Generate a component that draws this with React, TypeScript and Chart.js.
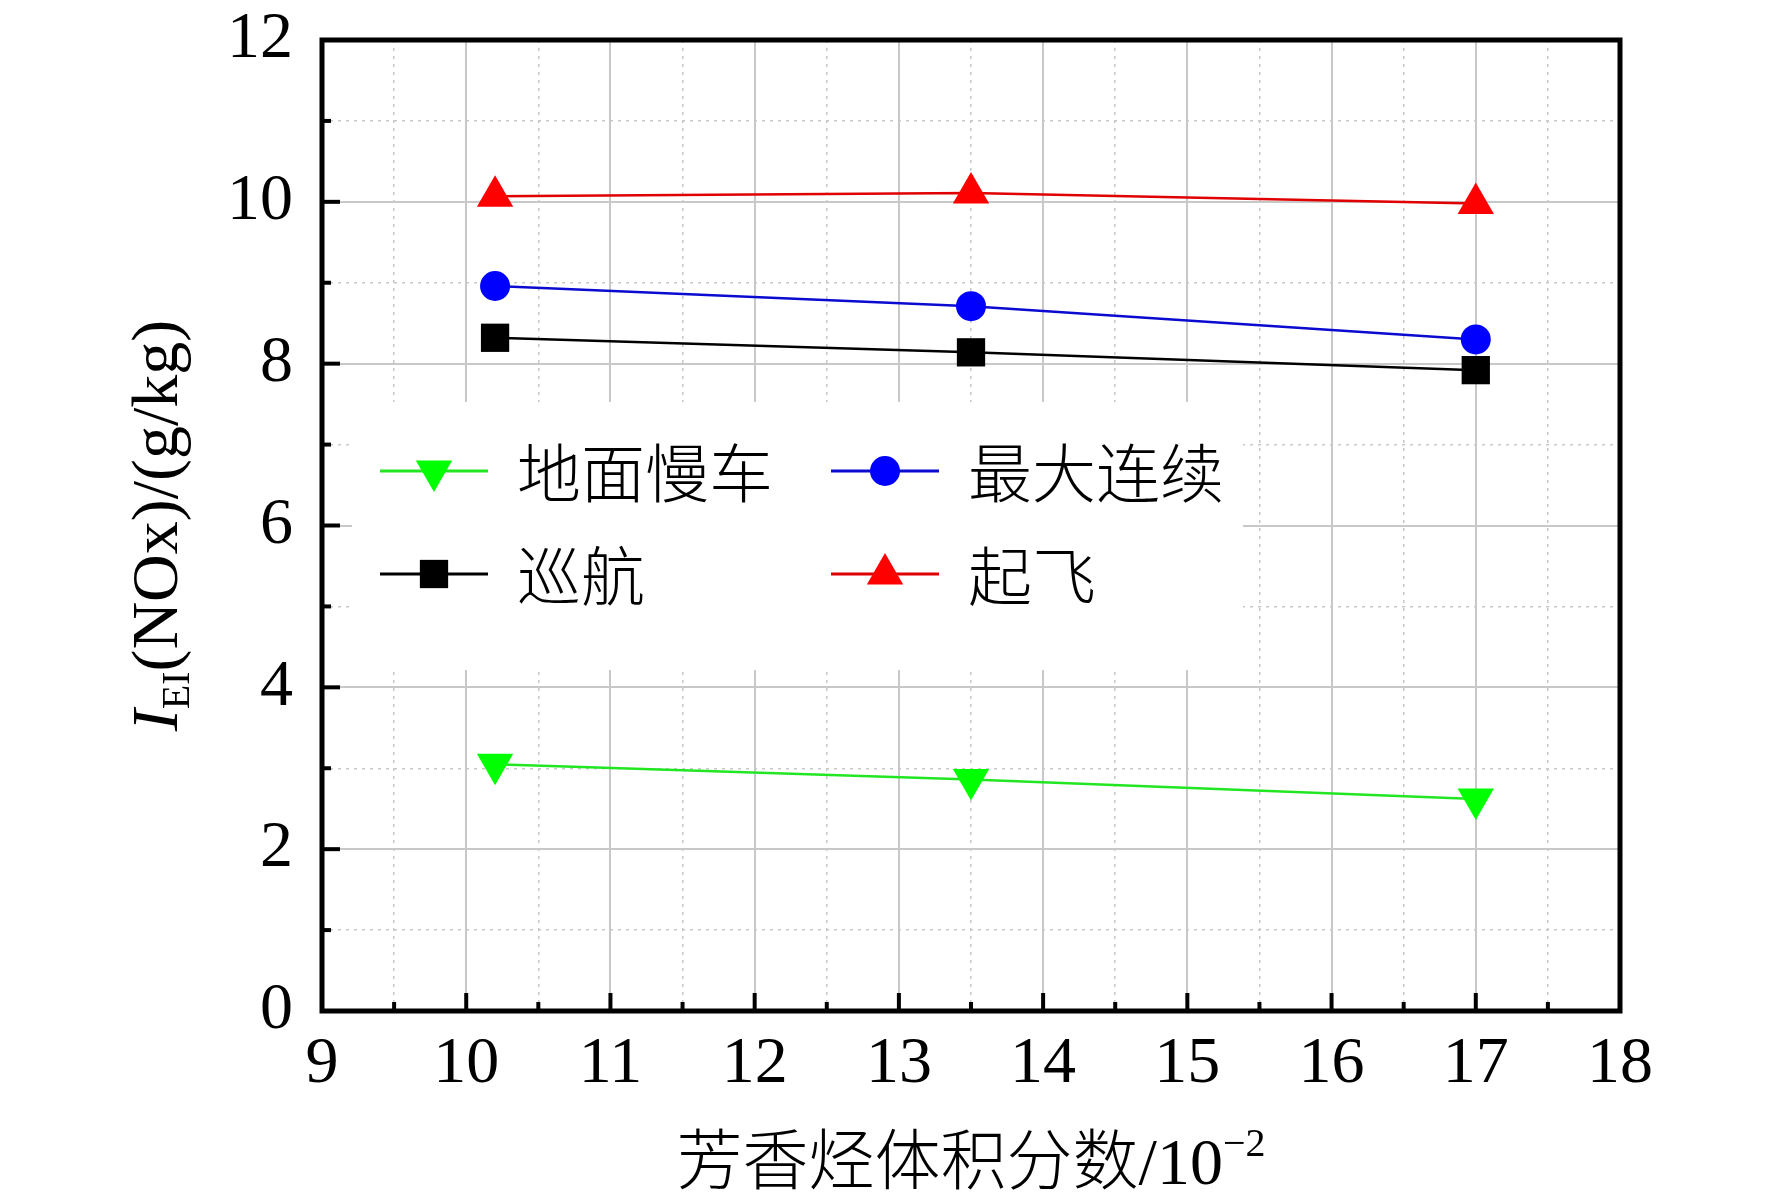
import React, { useEffect, useRef } from 'react';
import { Chart, registerables } from 'chart.js';
import { drawPoint } from 'chart.js/helpers';

Chart.register(...registerables);

// aromatic volume fraction (x) and NOx emission index per engine state
const xValues = [10.2, 13.5, 17];
const groundIdle = [3.05, 2.86, 2.62];
const maxContinuous = [8.96, 8.71, 8.30];
const cruise = [8.32, 8.14, 7.92];
const takeoff = [10.07, 10.11, 9.98];

const seriesNames = ['地面慢车', '最大连续', '巡航', '起飞'];

const SERIF = '"Liberation Serif", "Times New Roman", serif';
const CJK = '"Noto Sans CJK SC", sans-serif';

const toPoints = (ys: number[]) => ys.map((y, i) => ({ x: xValues[i], y }));

// frame, inward ticks, legend box and the two axis titles
const decorPlugin = {
  id: 'decor',
  afterDraw(chart: any) {
    const { ctx, chartArea: a, scales } = chart;
    const xs = scales.x;
    const ys = scales.y;
    ctx.save();

    // legend
    ctx.fillStyle = '#fff';
    ctx.fillRect(352, 402, 891, 268);
    const cols = [380, 831];
    const rows = [471, 574];
    chart.data.datasets.forEach((ds: any, i: number) => {
      const lx = cols[i % 2];
      const ly = rows[Math.floor(i / 2)];
      ctx.strokeStyle = ds.borderColor;
      ctx.lineWidth = 3;
      ctx.beginPath();
      ctx.moveTo(lx, ly);
      ctx.lineTo(lx + 108, ly);
      ctx.stroke();
      ctx.fillStyle = ds.pointBackgroundColor;
      drawPoint(ctx, { pointStyle: ds.pointStyle, rotation: ds.pointRotation || 0, radius: ds.pointRadius, borderWidth: 0 } as any, lx + 54, ly);
      ctx.fillStyle = '#000';
      ctx.font = `300 64px ${CJK}`;
      ctx.textAlign = 'left';
      ctx.textBaseline = 'middle';
      ctx.fillText(ds.label, lx + 137, ly + 2);
    });

    // ticks pointing inward on left and bottom
    ctx.strokeStyle = '#000';
    ctx.lineWidth = 4;
    xs.ticks.forEach((t: any) => {
      const px = xs.getPixelForValue(t.value);
      const len = Number.isInteger(t.value) ? 18 : 9;
      ctx.beginPath();
      ctx.moveTo(px, a.bottom);
      ctx.lineTo(px, a.bottom - len);
      ctx.stroke();
    });
    ys.ticks.forEach((t: any) => {
      const py = ys.getPixelForValue(t.value);
      const len = t.value % 2 === 0 ? 18 : 9;
      ctx.beginPath();
      ctx.moveTo(a.left, py);
      ctx.lineTo(a.left + len, py);
      ctx.stroke();
    });

    // frame
    ctx.lineWidth = 5;
    ctx.strokeRect(a.left, a.top, a.right - a.left, a.bottom - a.top);

    // x title
    ctx.fillStyle = '#000';
    ctx.textAlign = 'left';
    ctx.textBaseline = 'alphabetic';
    const xt1 = '芳香烃体积分数';
    const xt2 = '/10';
    const xt3 = '−2';
    ctx.font = `300 66px ${CJK}`;
    const w1 = ctx.measureText(xt1).width;
    ctx.font = `66px ${SERIF}`;
    const w2 = ctx.measureText(xt2).width;
    ctx.font = `40px ${SERIF}`;
    const w3 = ctx.measureText(xt3).width;
    let cx = (a.left + a.right) / 2 - (w1 + w2 + w3) / 2;
    const by = 1184;
    ctx.font = `300 66px ${CJK}`;
    ctx.fillText(xt1, cx, by);
    cx += w1;
    ctx.font = `66px ${SERIF}`;
    ctx.fillText(xt2, cx, by);
    cx += w2;
    ctx.font = `40px ${SERIF}`;
    ctx.fillText(xt3, cx, by - 28);

    // y title, rotated
    ctx.translate(155, (a.top + a.bottom) / 2);
    ctx.rotate(-Math.PI / 2);
    const p1 = 'I';
    const p2 = 'EI';
    const p3 = '(NOx)/(g/kg)';
    ctx.font = `italic 66px ${SERIF}`;
    const v1 = ctx.measureText(p1).width;
    ctx.font = `40px ${SERIF}`;
    const v2 = ctx.measureText(p2).width;
    ctx.font = `66px ${SERIF}`;
    const v3 = ctx.measureText(p3).width;
    let tx = -(v1 + v2 + v3) / 2;
    const base = 22;
    ctx.font = `italic 66px ${SERIF}`;
    ctx.fillText(p1, tx, base);
    tx += v1;
    ctx.font = `40px ${SERIF}`;
    ctx.fillText(p2, tx, base + 12);
    tx += v2;
    ctx.font = `66px ${SERIF}`;
    ctx.fillText(p3, tx, base);

    ctx.restore();
  },
};

const zeroPad = (s: any) => {
  s.paddingTop = 0;
  s.paddingBottom = 0;
  s.paddingLeft = 0;
  s.paddingRight = 0;
};

const EmissionChart: React.FC = () => {
  const ref = useRef<HTMLCanvasElement>(null);

  useEffect(() => {
    if (!ref.current) return;
    document.body.style.margin = '0';

    const gridColor = '#c8c8c8';

    const chart = new Chart(ref.current, {
      type: 'line',
      data: {
        datasets: [
          {
            label: seriesNames[0],
            data: toPoints(groundIdle),
            borderColor: '#22e622',
            pointBackgroundColor: '#00ff00',
            pointBorderWidth: 0,
            pointStyle: 'triangle',
            pointRotation: 180,
            pointRadius: 21,
            borderWidth: 2.5,
          },
          {
            label: seriesNames[1],
            data: toPoints(maxContinuous),
            borderColor: '#0a0ad0',
            pointBackgroundColor: '#0000ff',
            pointBorderWidth: 0,
            pointStyle: 'circle',
            pointRadius: 15,
            borderWidth: 2.5,
          },
          {
            label: seriesNames[2],
            data: toPoints(cruise),
            borderColor: '#000000',
            pointBackgroundColor: '#000000',
            pointBorderWidth: 0,
            pointStyle: 'rect',
            pointRadius: 20,
            borderWidth: 2.5,
          },
          {
            label: seriesNames[3],
            data: toPoints(takeoff),
            borderColor: '#e00000',
            pointBackgroundColor: '#ff0000',
            pointBorderWidth: 0,
            pointStyle: 'triangle',
            pointRadius: 21,
            borderWidth: 2.5,
          },
        ] as any,
      },
      options: {
        animation: false,
        responsive: true,
        maintainAspectRatio: false,
        layout: { padding: { top: 40, right: 152, left: 0, bottom: 0 } },
        plugins: { legend: { display: false }, tooltip: { enabled: false } },
        elements: { line: { tension: 0 } },
        scales: {
          x: {
            type: 'linear',
            min: 9,
            max: 18,
            afterFit: (s: any) => { s.height = 192; zeroPad(s); },
            border: { display: false, dash: (c: any) => (c.tick && !Number.isInteger(c.tick.value) ? [3, 5] : []) } as any,
            grid: {
              drawTicks: false,
              color: gridColor,
              lineWidth: (c: any) => (c.tick && Number.isInteger(c.tick.value) ? 2 : 1.5),
            },
            ticks: {
              stepSize: 0.5,
              autoSkip: false,
              maxRotation: 0,
              padding: 14,
              color: '#000',
              font: { family: SERIF, size: 66 },
              callback: (v: any) => (Number.isInteger(v) ? String(v) : ''),
            },
          },
          y: {
            type: 'linear',
            min: 0,
            max: 12,
            afterFit: (s: any) => { s.width = 322; zeroPad(s); },
            border: { display: false, dash: (c: any) => (c.tick && c.tick.value % 2 !== 0 ? [3, 5] : []) } as any,
            grid: {
              drawTicks: false,
              color: gridColor,
              lineWidth: (c: any) => (c.tick && c.tick.value % 2 === 0 ? 2 : 1.5),
            },
            ticks: {
              stepSize: 1,
              autoSkip: false,
              padding: 29,
              color: '#000',
              font: { family: SERIF, size: 66 },
              callback: (v: any) => (v % 2 === 0 ? String(v) : ''),
            },
          },
        },
      },
      plugins: [decorPlugin],
    });

    return () => {
      chart.destroy();
    };
  }, []);

  return (
    <div style={{ position: 'fixed', left: 0, top: 0, width: 1772, height: 1203, background: '#fff' }}>
      <canvas ref={ref}></canvas>
    </div>
  );
};

export default function App() {
  return <EmissionChart />;
}
